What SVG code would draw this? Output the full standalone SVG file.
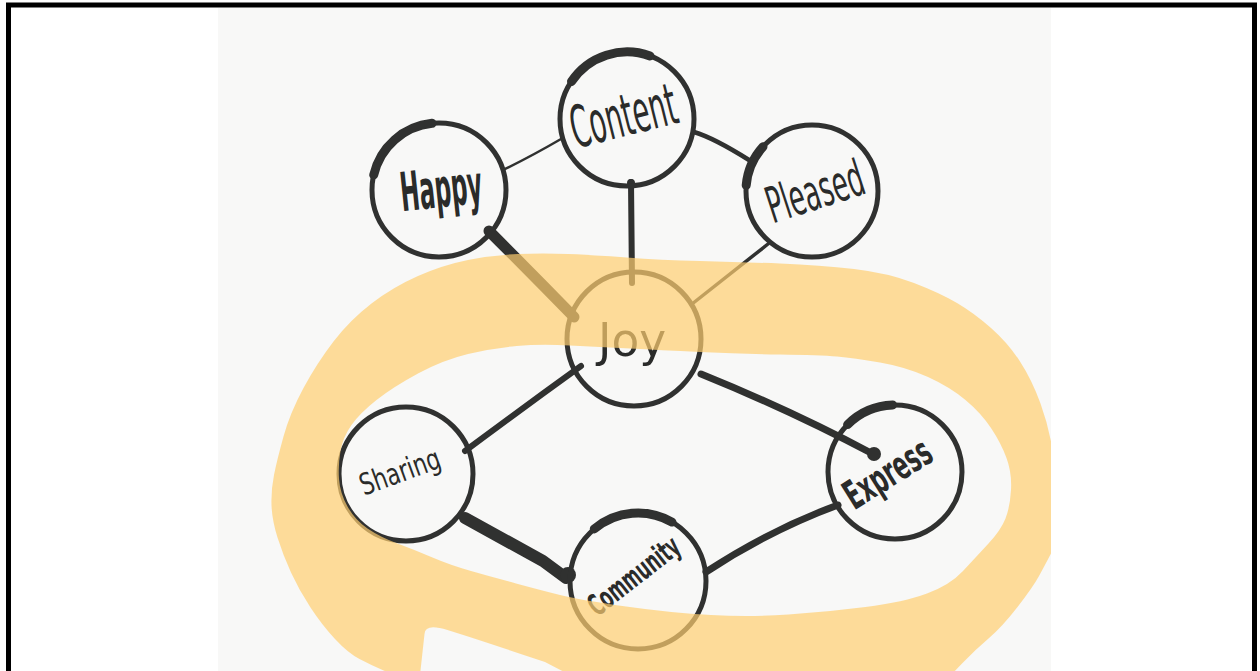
<svg xmlns="http://www.w3.org/2000/svg" width="1260" height="671" viewBox="0 0 1260 671">
<defs>
<style>
.ring{fill:none;stroke:#303130;stroke-width:5}
.acc{fill:none;stroke:#303130;stroke-width:9;stroke-linecap:round}
.ln{fill:none;stroke:#303130;stroke-linecap:round;stroke-linejoin:round}
.lbl{font-family:"DejaVu Sans Condensed","DejaVu Sans",sans-serif;fill:#2a2b2a;text-anchor:middle}
.hl{fill:#ffcf70;fill-opacity:0.7;fill-rule:evenodd}
</style>
<clipPath id="bgclip"><rect x="218" y="8" width="833" height="663"/></clipPath>
</defs>
<rect x="0" y="0" width="1260" height="671" fill="#ffffff"/>
<rect x="218" y="8" width="833" height="663" fill="#f8f8f7"/>
<rect x="8.5" y="5" width="1246" height="700" fill="none" stroke="#000" stroke-width="5"/>

<g id="connectors">
<path class="ln" stroke-width="2.5" d="M503,170 Q530,157 561,139"/>
<path class="ln" stroke-width="4.5" d="M694,132 Q714,138 749,160"/>
<path class="ln" stroke-width="6" d="M631,182 L632,283"/>
<circle cx="631" cy="183" r="4" fill="#303130"/>
<path class="ln" stroke-width="11" d="M489,231 Q530,272 574,317"/>
<path class="ln" stroke-width="3.5" d="M768,244 L692,304"/>
<path class="ln" stroke-width="6" d="M581,366 Q520,410 465,451"/>
<path class="ln" stroke-width="7" d="M701,374 Q790,410 873,454"/>
<circle cx="874" cy="454" r="7" fill="#303130"/>
<path class="ln" stroke-width="12" d="M465,518 Q505,540 543,561 L566,578"/>
<circle cx="568" cy="575" r="8" fill="#303130"/>
<path class="ln" stroke-width="7" d="M706,572 Q770,530 838,505"/>
</g>

<g id="node-content">
<circle class="ring" cx="627" cy="119" r="67"/>
<path class="acc" d="M571.5,81.5 A67,67 0 0 1 650,56"/>
<text class="lbl" x="623" y="136" font-size="58" textLength="108" lengthAdjust="spacingAndGlyphs" transform="rotate(-14 623 115)">Content</text>
</g>
<g id="node-happy">
<circle class="ring" cx="439" cy="190" r="67"/>
<path class="acc" d="M373.7,174.9 A67,67 0 0 1 432,123.3"/>
<text class="lbl" x="441" y="207" font-size="54" font-weight="bold" textLength="82" lengthAdjust="spacingAndGlyphs" transform="rotate(-6 441 188)">Happy</text>
</g>
<g id="node-pleased">
<circle class="ring" cx="812" cy="191" r="66"/>
<path class="acc" d="M746.2,185.3 A66,66 0 0 1 763,146.8"/>
<text class="lbl" x="815" y="209" font-size="50" textLength="100" lengthAdjust="spacingAndGlyphs" transform="rotate(-18 815 192)">Pleased</text>
</g>
<g id="node-joy">
<circle class="ring" cx="634" cy="339" r="67"/>
<text class="lbl" x="632" y="356" font-size="46" textLength="68" lengthAdjust="spacingAndGlyphs">Joy</text>
</g>
<g id="node-sharing">
<circle class="ring" cx="406" cy="474" r="67"/>
<text class="lbl" x="400" y="482" font-size="30" textLength="84" lengthAdjust="spacingAndGlyphs" transform="rotate(-20 400 472)">Sharing</text>
</g>
<g id="node-express">
<circle class="ring" cx="895" cy="472" r="67"/>
<path class="acc" d="M847.6,424.6 A67,67 0 0 1 892.7,405"/>
<text class="lbl" x="888" y="487" font-size="40" font-weight="bold" textLength="96" lengthAdjust="spacingAndGlyphs" transform="rotate(-32 888 474)">Express</text>
</g>
<g id="node-community">
<circle class="ring" cx="638" cy="581" r="68"/>
<path class="acc" d="M594.3,528.9 A68,68 0 0 1 672,522.1"/>
<text class="lbl" x="634" y="586" font-size="30" font-weight="bold" textLength="108" lengthAdjust="spacingAndGlyphs" transform="rotate(-38 634 576)">Community</text>
</g>

<g id="highlight" clip-path="url(#bgclip)">
<path class="hl" d="M394,675 L382.5,670 Q371,665 359.5,659 Q348,653 335,639 Q322,625 310.5,607.5 Q299,590 291,572.5 Q283,555 277.5,537.5 Q272,520 271.5,505 Q271,490 274,475 Q277,460 283.5,436.5 Q290,413 303.5,388 Q317,363 333.5,341.5 Q350,320 371.5,303.5 Q393,287 418,276 Q443,265 468,260 Q493,255 518,254 Q543,253 568,254 Q593,255 626.5,257.5 Q660,260 700,261 Q740,262 780,263.5 Q820,265 854,269 Q888,273 914,283 Q940,293 957,303 Q974,313 991,328 Q1008,343 1020,361.5 Q1032,380 1040.5,403.5 Q1049,427 1052.5,450 Q1056,473 1057,506.5 Q1058,540 1051.5,552.5 Q1045,565 1039,576 Q1033,587 1017.5,607 Q1002,627 988.5,638.5 Q975,650 963,662.5 L951,675 L570,675 L545,662 Q518,653 494,645 Q470,637 447.5,630 Q425,623 424.5,634 L420,675 Z M347.5,506.5 Q355,520 367.5,528.5 Q380,537 397.5,543.5 Q415,550 432.5,557.5 Q450,565 471,571 Q492,577 516,583.5 Q540,590 560,595 Q580,600 626,606.5 Q672,613 711,615 Q750,617 788.5,614.5 Q827,612 865.5,607 Q904,602 927,593.5 Q950,585 963,571 Q976,557 988.5,543.5 Q1001,530 1005.5,518.5 Q1010,507 1011,490 Q1012,473 1006.5,458 Q1001,443 991,428 Q981,413 965.5,400 Q950,387 928,377 Q906,367 880,362.5 Q854,358 837,356.5 Q820,355 780,354.5 Q740,354 700,352 Q660,350 630,348.5 Q600,347 570,345.5 Q540,344 516.5,346 Q493,348 468,354 Q443,360 418,373.5 Q393,387 376.5,400 Q360,413 351.5,425 Q343,437 340.5,451 Q338,465 339,479 Q340,493 347.5,506.5 Z"/>
</g>
</svg>
